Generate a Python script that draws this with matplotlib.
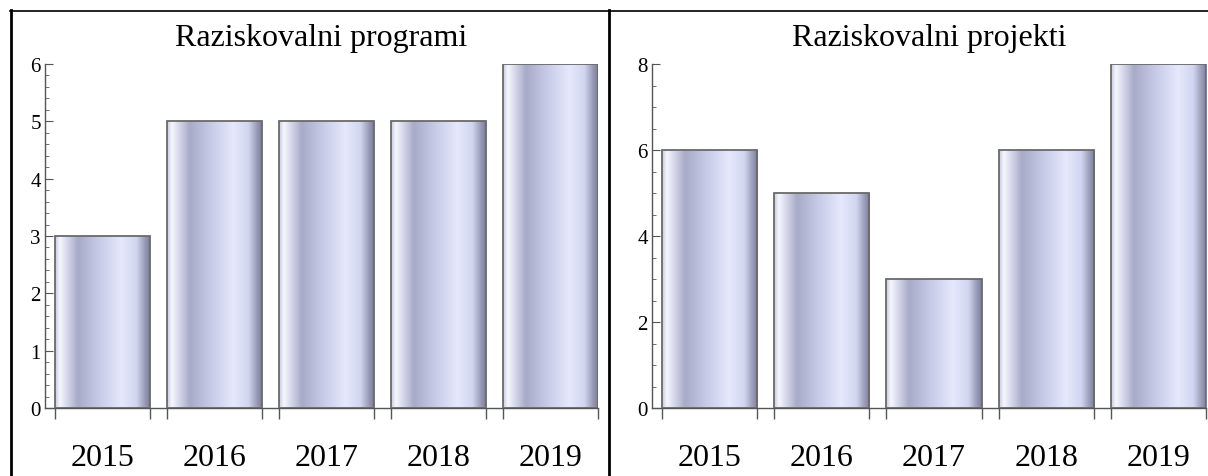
import numpy as np
import matplotlib
matplotlib.use("Agg")
import matplotlib.pyplot as plt
from matplotlib.colors import LinearSegmentedColormap
from matplotlib.lines import Line2D
from matplotlib.ticker import MultipleLocator, FixedLocator

years = ["2015", "2016", "2017", "2018", "2019"]
programi = [3, 5, 5, 5, 6]
projekti = [6, 5, 3, 6, 8]
titles = ["Raziskovalni programi", "Raziskovalni projekti"]

plt.rcParams["font.family"] = ["Liberation Serif", "DejaVu Serif"]

W, H = 1208, 477
fig = plt.figure(figsize=(W / 100, H / 100), dpi=100)

cmap = LinearSegmentedColormap.from_list(
    "cyl",
    [(0.0, "#c8cadf"), (0.05, "#f6f7fe"), (0.11, "#dcdef0"), (0.24, "#a8abc7"),
     (0.45, "#c6c9e6"), (0.70, "#e6e8fc"), (0.86, "#d2d5f0"), (0.96, "#9294ae"),
     (1.0, "#7e8098")])
grad = np.linspace(0, 1, 256).reshape(1, -1)

panels = [
    dict(vals=programi, title=titles[0], left=45, right=598, ymax=6,
         major=1, minor=0.2),
    dict(vals=projekti, title=titles[1], left=652, right=1206, ymax=8,
         major=2, minor=0.5),
]

y0_px, ytop_px = 409, 65
bw = 95 / 112
for p in panels:
    ax = fig.add_axes([p["left"] / W, (H - y0_px) / H,
                       (p["right"] - p["left"]) / W, (y0_px - ytop_px) / H])
    x = np.arange(len(years))
    bars = ax.bar(x, p["vals"], width=bw, color="none", edgecolor="#6a6a6a",
                  linewidth=1.3, zorder=3)
    for b in bars:
        bx, by = b.get_x(), b.get_y()
        im = ax.imshow(grad, cmap=cmap, aspect="auto", interpolation="bicubic",
                       extent=[bx, bx + b.get_width(), by, by + b.get_height()],
                       zorder=2)
        im.set_clip_path(b)
    xl = -bw / 2 - 10 / 112
    ax.set_xlim(xl, len(years) - 1 + bw / 2)
    ax.set_ylim(0, p["ymax"])
    for s in ["top", "right"]:
        ax.spines[s].set_visible(False)
    for s in ["left", "bottom"]:
        ax.spines[s].set_color("#555555")
        ax.spines[s].set_linewidth(1.0)
    ax.set_xticks(x)
    ax.set_xticklabels(years, fontsize=23)
    edges = np.concatenate([x - bw / 2, x + bw / 2])
    ax.xaxis.set_minor_locator(FixedLocator(edges))
    ax.tick_params(axis="x", which="major", length=0, pad=25)
    ax.tick_params(axis="x", which="minor", length=8, direction="out",
                   color="#555555", width=1.0)
    ax.yaxis.set_major_locator(MultipleLocator(p["major"]))
    ax.yaxis.set_minor_locator(MultipleLocator(p["minor"]))
    ax.tick_params(axis="y", which="major", direction="in", length=6,
                   color="#555555", labelsize=15, pad=3)
    ax.tick_params(axis="y", which="minor", direction="in", length=3,
                   color="#555555")
    ax.set_title(p["title"], fontsize=23, pad=14)
    ax.set_facecolor("none")

# table borders
ty = 1 - 12 / H
fig.add_artist(Line2D([10 / W, 1.0], [ty, ty], transform=fig.transFigure,
                      color="black", linewidth=1.2))
fig.add_artist(Line2D([10.5 / W, 10.5 / W], [0, ty + 1 / H], transform=fig.transFigure,
                      color="black", linewidth=2.0))
fig.add_artist(Line2D([609 / W, 609 / W], [0, ty + 1 / H], transform=fig.transFigure,
                      color="black", linewidth=2.0))

fig.savefig("out.png", dpi=100)
